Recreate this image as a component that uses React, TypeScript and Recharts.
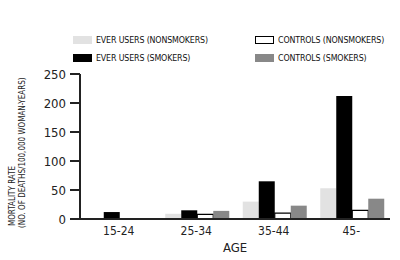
import React from "react";
import { BarChart, Bar, XAxis, YAxis, Legend } from "recharts";

const categories = ["15-24", "25-34", "35-44", "45-"];
const everNonsmokers = [0, 9, 30, 53];
const everSmokers = [12, 15, 65, 212];
const controlsNonsmokers = [0, 8, 10, 15];
const controlsSmokers = [0, 14, 23, 35];
const yTicks = [0, 50, 100, 150, 200, 250];

const data = categories.map((c, i) => ({
  age: c,
  everNon: everNonsmokers[i] || null,
  everSm: everSmokers[i] || null,
  ctrlNon: controlsNonsmokers[i] || null,
  ctrlSm: controlsSmokers[i] || null,
}));

const FONT = "'DejaVu Sans Condensed', 'Liberation Sans', Arial, sans-serif";
const AXIS = "#222";

const legendItems = [
  { label: "EVER USERS (NONSMOKERS)", fill: "#e2e2e2", stroke: "none", x: 73, y: 0 },
  { label: "CONTROLS (NONSMOKERS)", fill: "#fff", stroke: "#000", x: 255, y: 0 },
  { label: "EVER USERS (SMOKERS)", fill: "#000", stroke: "none", x: 73, y: 18 },
  { label: "CONTROLS (SMOKERS)", fill: "#888", stroke: "none", x: 255, y: 18 },
];

const LegendContent = () => (
  <div style={{ position: "relative", width: 400, height: 36, fontFamily: FONT, fontSize: 8.8, letterSpacing: -0.15, color: "#111" }}>
    {legendItems.map((it) => (
      <div key={it.label} style={{ position: "absolute", left: it.x, top: it.y, display: "flex", alignItems: "center", height: 12 }}>
        <div style={{ width: it.stroke === "none" ? 19 : 17, height: it.stroke === "none" ? 8 : 6, background: it.fill, border: it.stroke === "none" ? "none" : `1px solid ${it.stroke}`, marginRight: 4 }} />
        <span style={{ whiteSpace: "nowrap" }}>{it.label}</span>
      </div>
    ))}
  </div>
);

const YLabel = () => (
  <g fontFamily={FONT} fontSize={8} fill="#222">
    <text transform="translate(15,226) rotate(-90)" textAnchor="start">MORTALITY RATE</text>
    <text transform="translate(25,228) rotate(-90)" textAnchor="start">(NO. OF DEATHS/100,000 WOMAN-YEARS)</text>
  </g>
);

export default function App() {
  return (
    <div style={{ position: "absolute", left: 0, top: 0, width: 400, height: 260, background: "#fff" }}>
      <BarChart
        width={400}
        height={260}
        data={data}
        margin={{ top: 38, right: 10, bottom: 0, left: 0 }}
        barCategoryGap="10%"
        barGap={0}
      >
        <Legend
          verticalAlign="top"
          content={<LegendContent />}
          wrapperStyle={{ top: 34, left: 0, width: 400, height: 36 }}
        />
        <XAxis
          dataKey="age"
          height={41}
          stroke={AXIS}
          strokeWidth={2}
          axisLine={true}
          tickLine={false}
          tick={{ fontFamily: FONT, fontSize: 12, fill: "#222" }}
          tickMargin={1}
          label={{ value: "AGE", position: "insideBottom", offset: 8, style: { fontFamily: FONT, fontSize: 13, fill: "#222" } }}
        />
        <XAxis xAxisId="top" dataKey="age" orientation="top" height={0} stroke={AXIS} strokeWidth={2} axisLine={true} tick={false} tickLine={false} />
        <YAxis
          width={80}
          domain={[0, 250]}
          ticks={yTicks}
          stroke={AXIS}
          strokeWidth={2}
          axisLine={true}
          tickLine={true}
          tickSize={10}
          tickMargin={4}
          tick={{ fontFamily: FONT, fontSize: 13, fill: "#222" }}
          label={<YLabel />}
        />
        <YAxis yAxisId="right" orientation="right" width={0} domain={[0, 250]} stroke={AXIS} strokeWidth={2} axisLine={true} tick={false} tickLine={false} />
        <Bar dataKey="everNon" fill="#e2e2e2" isAnimationActive={false} />
        <Bar dataKey="everSm" fill="#000" isAnimationActive={false} />
        <Bar dataKey="ctrlNon" fill="#fff" stroke="#000" strokeWidth={1.2} isAnimationActive={false} />
        <Bar dataKey="ctrlSm" fill="#888" isAnimationActive={false} />
      </BarChart>
    </div>
  );
}
